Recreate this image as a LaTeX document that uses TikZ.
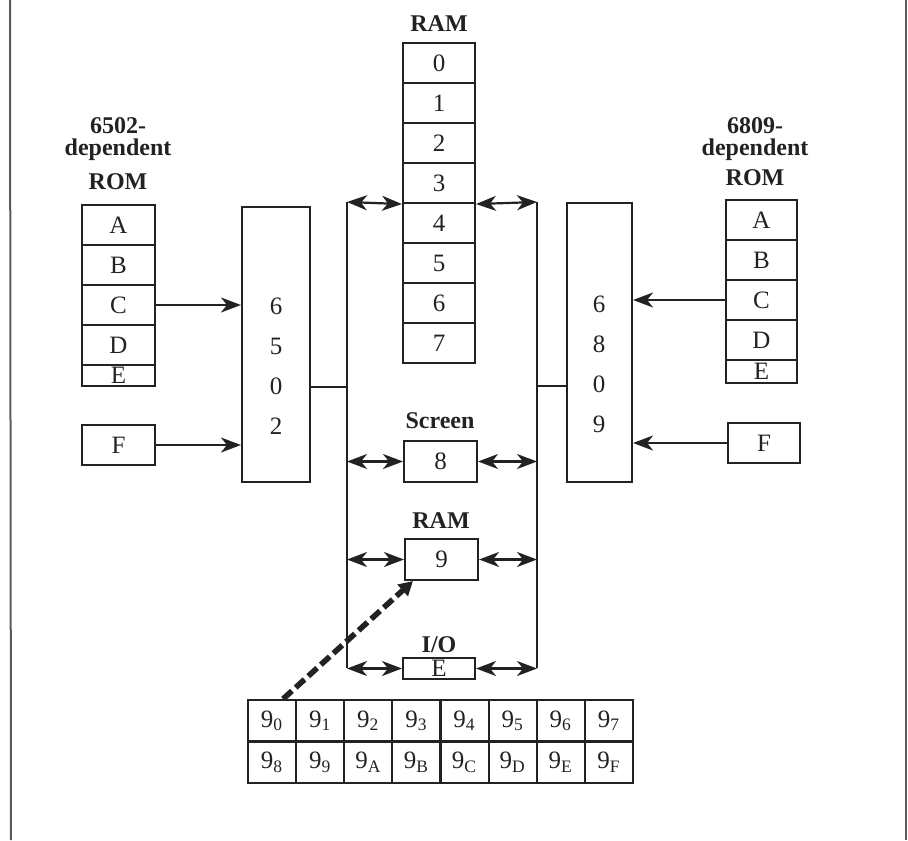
\documentclass[tikz,border=0pt]{standalone}
\usepackage{fontspec}
\setmainfont{Liberation Serif}
\usetikzlibrary{arrows.meta,calc}
\definecolor{inkc}{HTML}{222222}
\definecolor{rulec}{HTML}{5A5A5A}

\begin{document}
\begin{tikzpicture}[x=0.5pt,y=-0.5pt,
  cell/.style={draw=inkc, line width=1.05pt, inner sep=0pt, text=inkc,
    font=\fontsize{12.5}{14}\selectfont},
  romcell/.style={cell, minimum width=36.5pt, minimum height=20pt},
  lbl/.style={font=\bfseries\fontsize{12}{14}\selectfont, inner sep=0pt,
    anchor=base, text=inkc},
  digits/.style={align=center, inner sep=0pt, text=inkc,
    font=\fontsize{12.5}{20}\selectfont},
  bus/.style={draw=inkc, line width=1.1pt},
  tip/.style={-{Stealth[length=10pt,width=7.5pt,inset=3pt]}},
  dtip/.style={{Stealth[length=10pt,width=7.5pt,inset=3pt]}-{Stealth[length=10pt,width=7.5pt,inset=3pt]}},
]
\useasboundingbox (0,0) rectangle (908,840);

% side rules of the page
\draw[rulec, line width=1pt] (10,0) -- (11,840);
\draw[rulec, line width=1pt] (906,0) -- (906,840);

% ---- 6502-dependent ROM ----
\node[lbl] (lt1) at (118,133) {6502-};
\node[lbl] (lt2) at (118,155) {dependent};
\node[lbl] (lt3) at (118,189) {ROM};
\node[romcell] (lA) at (118.5,225) {A};
\node[romcell] (lB) at (118.5,265) {B};
\node[romcell] (lC) at (118.5,305) {C};
\node[romcell] (lD) at (118.5,345) {D};
\node[cell, minimum width=36.5pt, minimum height=10.5pt] (lE) at (118.5,375.5) {E};
\node[romcell] (lF) at (118.5,445) {F};

% ---- 6502 CPU ----
\node[cell, minimum width=34pt, minimum height=137.5pt] (p6502) at (276,344.5) {};
\node[digits] (d6502) at (276,366) {6\\5\\0\\2};

% ---- 6809 CPU ----
\node[cell, minimum width=32.5pt, minimum height=139.5pt] (p6809) at (599.5,342.5) {};
\node[digits] (d6809) at (599,364) {6\\8\\0\\9};

% ---- 6809-dependent ROM ----
\node[lbl] (rt1) at (755,133) {6809-};
\node[lbl] (rt2) at (755,155) {dependent};
\node[lbl] (rt3) at (755,185) {ROM};
\node[cell, minimum width=35.5pt, minimum height=20pt] (rA) at (761.5,220) {A};
\node[cell, minimum width=35.5pt, minimum height=20pt] (rB) at (761.5,260) {B};
\node[cell, minimum width=35.5pt, minimum height=20pt] (rC) at (761.5,300) {C};
\node[cell, minimum width=35.5pt, minimum height=20pt] (rD) at (761.5,340) {D};
\node[cell, minimum width=35.5pt, minimum height=11.5pt] (rE) at (761.5,371.5) {E};
\node[cell, minimum width=36pt, minimum height=20pt] (rF) at (764,443) {F};

% ---- shared RAM ----
\node[lbl] (ramt) at (439,32) {RAM};
\foreach \k in {0,...,7}{
  \node[cell, minimum width=36pt, minimum height=20pt] (m\k) at (439,63+40*\k) {\k};
}

% ---- screen, RAM 9, I/O ----
\node[lbl] (scrt) at (440,428) {Screen};
\node[cell, minimum width=36.5pt, minimum height=20.5pt] (s8) at (440.5,461.5) {8};
\node[lbl] (r9t) at (441,528) {RAM};
\node[cell, minimum width=36.5pt, minimum height=20.5pt] (m9) at (441.5,559.5) {9};
\node[lbl] (iot) at (439,652) {I/O};
\node[cell, minimum width=36pt, minimum height=10.5pt] (io) at (439,668.5) {E};

% ---- buses ----
\coordinate (bLt) at (347,202);
\coordinate (bLb) at (347,668);
\coordinate (bRt) at (537,202);
\coordinate (bRb) at (537,668);
\draw[bus] (bLt) -- (bLb);
\draw[bus] (bRt) -- (bRb);

\draw[bus,dtip] (bLt) -- (m3.south west);
\draw[bus,dtip] (m3.south east) -- (bRt);
\draw[bus,dtip] (s8.west -| bLt) -- (s8.west);
\draw[bus,dtip] (s8.east) -- (s8.east -| bRt);
\draw[bus,dtip] (m9.west -| bLt) -- (m9.west);
\draw[bus,dtip] (m9.east) -- (m9.east -| bRt);
\draw[bus,dtip] (io.west -| bLt) -- (io.west);
\draw[bus,dtip] (io.east) -- (io.east -| bRt);

\coordinate (jL) at (347,387);
\coordinate (jR) at (537,386);
\draw[bus] (jL -| p6502.east) -- (jL);
\draw[bus] (jR) -- (jR -| p6809.west);

% ---- ROM to CPU ----
\draw[bus,tip] (lC.east) -- (lC.east -| p6502.west);
\draw[bus,tip] (lF.east) -- (lF.east -| p6502.west);
\draw[bus,tip] (rC.west) -- (rC.west -| p6809.east);
\draw[bus,tip] (rF.west) -- (rF.west -| p6809.east);

% ---- expanded RAM block 9 ----
\foreach \s [count=\i from 0] in {0,1,2,3,4,5,6,7,8,9,A,B,C,D,E,F}{
  \pgfmathtruncatemacro{\col}{mod(\i,8)}
  \pgfmathtruncatemacro{\row}{\i/8}
  \node[cell, minimum width=24.06pt, minimum height=20.75pt]
    (g\i) at ({248+48.125*(\col+0.5)},{700+41.5*(\row+0.5)}) {9\textsubscript{\s}};
}

% dashed pointer from the block to RAM 9
\draw[inkc, line width=2.8pt, dash pattern=on 6pt off 2.5pt,
  -{Triangle[length=7pt,width=7.5pt]}]
  ($(g0.north)+(11,0)$) -- ($(m9.south west)+(9,0)$);
\end{tikzpicture}
\end{document}
